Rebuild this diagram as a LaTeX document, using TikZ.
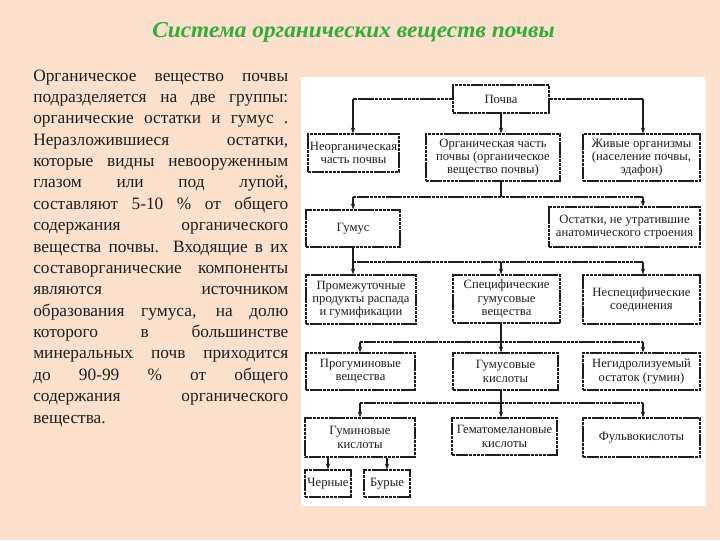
\documentclass[tikz,border=0pt]{standalone}
\usepackage{fontspec}
\setmainfont{Liberation Serif}
\newfontfamily\titlefont[FakeStretch=1.03]{Liberation Serif}
\usetikzlibrary{arrows.meta}
\definecolor{bg}{RGB}{252,224,206}
\definecolor{ttl}{RGB}{52,172,58}
\definecolor{ink}{RGB}{30,30,30}
\begin{document}
\begin{tikzpicture}[x=0.75pt,y=-0.75pt,
  box/.style={draw=ink, line width=0.8pt, dash pattern=on 2.6pt off 0.5pt, fill=white, inner sep=0.5pt,
    align=center, text=ink, font=\fontsize{9.5}{9.9}\selectfont},
  hl/.style={draw=ink, line width=0.8pt, dash pattern=on 2.6pt off 0.5pt},
  vl/.style={draw=ink, line width=0.8pt},
  arr/.style={draw=ink, line width=0.8pt, -{Stealth[length=4.5pt,width=3.2pt]}},
  para/.style={anchor=base west, inner sep=0pt, text=ink, font=\fontsize{13}{16}\selectfont}]
\fill[bg] (0,0) rectangle (720,540);
\useasboundingbox (0,0) rectangle (720,540);
\fill[white] (301,77) rectangle (706,506);

\node[anchor=base, inner sep=0pt, text=ttl, font=\titlefont\bfseries\itshape\fontsize{17}{20}\selectfont] (title) at (353.5,37) {Система органических веществ почвы};

\foreach \t [count=\i] in {
  {Органическое вещество почвы},
  {подразделяется на две группы:},
  {органические остатки и гумус .},
  {Неразложившиеся остатки,},
  {которые видны невооруженным},
  {глазом или под лупой,},
  {составляют 5-10 \% от общего},
  {содержания органического},
  {вещества почвы. Входящие в их},
  {составорганические компоненты},
  {являются источником},
  {образования гумуса, на долю},
  {которого в большинстве},
  {минеральных почв приходится},
  {до 90-99 \% от общего},
  {содержания органического}}
  \node[para] (l\i) at (33,{81+(\i-1)*21.375}) {\makebox[191.25pt][s]{\t}};
\node[para] (l17) at (33,{81+16*21.375}) {вещества.};

\node[box, minimum width=72pt, minimum height=21pt] (pochva) at (501,99) {Почва};
\node[box, minimum width=68.25pt, minimum height=28.5pt] (neorg) at (353.5,153) {Неорганическая\\часть почвы};
\node[box, minimum width=100.5pt, minimum height=35.25pt] (org) at (493,157.5) {Органическая часть\\почвы (органическое\\вещество почвы)};
\node[box, minimum width=87.75pt, minimum height=35.25pt] (zhivye) at (641.5,157.5) {Живые организмы\\(население почвы,\\эдафон)};
\node[box, minimum width=70.5pt, minimum height=27.75pt] (gumus) at (353,228.5) {Гумус};
\node[box, minimum width=113.25pt, minimum height=30pt] (ostatki) at (624.5,227) {Остатки, не утратившие\\анатомического строения};
\node[box, minimum width=82.5pt, minimum height=36.75pt] (promezh) at (361,299.5) {Промежуточные\\продукты распада\\и гумификации};
\node[box, minimum width=80.25pt, minimum height=36pt] (specif) at (506.5,299) {Специфические\\гумусовые\\вещества};
\node[box, minimum width=87.75pt, minimum height=36.75pt] (nespec) at (641.5,299.5) {Неспецифические\\соединения};
\node[box, minimum width=81.75pt, minimum height=27.75pt] (progum) at (360.5,371.5) {Прогуминовые\\вещества};
\node[box, minimum width=78.75pt, minimum height=27.75pt] (gumkisl) at (505.5,371.5) {Гумусовые\\кислоты};
\node[box, minimum width=87.75pt, minimum height=27.75pt] (nehydro) at (641.5,371.5) {Негидролизуемый\\остаток (гумин)};
\node[box, minimum width=82.5pt, minimum height=29.25pt] (guminovye) at (360,437.5) {Гуминовые\\кислоты};
\node[box, minimum width=78.75pt, minimum height=27.75pt] (gemato) at (504.5,436.5) {Гематомелановые\\кислоты};
\node[box, minimum width=87.75pt, minimum height=29.25pt] (fulvo) at (641.5,437.5) {Фульвокислоты};
\node[box, minimum width=34.5pt, minimum height=20.25pt] (chernye) at (328,483.5) {Черные};
\node[box, minimum width=34.5pt, minimum height=20.25pt] (burye) at (387,483.5) {Бурые};

\coordinate (cL) at (353,0);
\coordinate (cM) at (501,0);
\coordinate (cR) at (643,0);
\coordinate (cL2) at (360,0);
\coordinate (j2) at (501,197);
\coordinate (j3) at (353,262);
\coordinate (j4) at (501,342);
\coordinate (j5) at (501,403);

% level 1
\draw[hl] (pochva.west) -- (cL |- pochva.west);
\draw[hl] (pochva.east) -- (cR |- pochva.east);
\draw[arr] (cL |- pochva.west) -- (cL |- neorg.north);
\draw[arr] (cR |- pochva.east) -- (cR |- zhivye.north);
\draw[arr] (cM |- pochva.south) -- (cM |- org.north);
% level 2
\draw[vl] (cM |- org.south) -- (j2);
\draw[hl] (cL |- j2) -- (cR |- j2);
\draw[arr] (cL |- j2) -- (cL |- gumus.north);
\draw[arr] (cR |- j2) -- (cR |- ostatki.north);
% level 3
\draw[vl] (cL |- gumus.south) -- (j3);
\draw[hl] (j3) -- (cR |- j3);
\draw[arr] (j3) -- (cL |- promezh.north);
\draw[arr] (cM |- j3) -- (cM |- specif.north);
\draw[arr] (cR |- j3) -- (cR |- nespec.north);
% level 4
\draw[vl] (cM |- specif.south) -- (j4);
\draw[hl] (cL2 |- j4) -- (cR |- j4);
\draw[arr] (cL2 |- j4) -- (cL2 |- progum.north);
\draw[arr] (j4) -- (cM |- gumkisl.north);
\draw[arr] (cR |- j4) -- (cR |- nehydro.north);
% level 5
\draw[vl] (cM |- gumkisl.south) -- (j5);
\draw[hl] (cL2 |- j5) -- (cR |- j5);
\draw[arr] (cL2 |- j5) -- (cL2 |- guminovye.north);
\draw[arr] (j5) -- (cM |- gemato.north);
\draw[arr] (cR |- j5) -- (cR |- fulvo.north);
% level 6
\draw[arr] (chernye.north |- guminovye.south) -- (chernye.north);
\draw[arr] (burye.north |- guminovye.south) -- (burye.north);
\end{tikzpicture}
\end{document}
